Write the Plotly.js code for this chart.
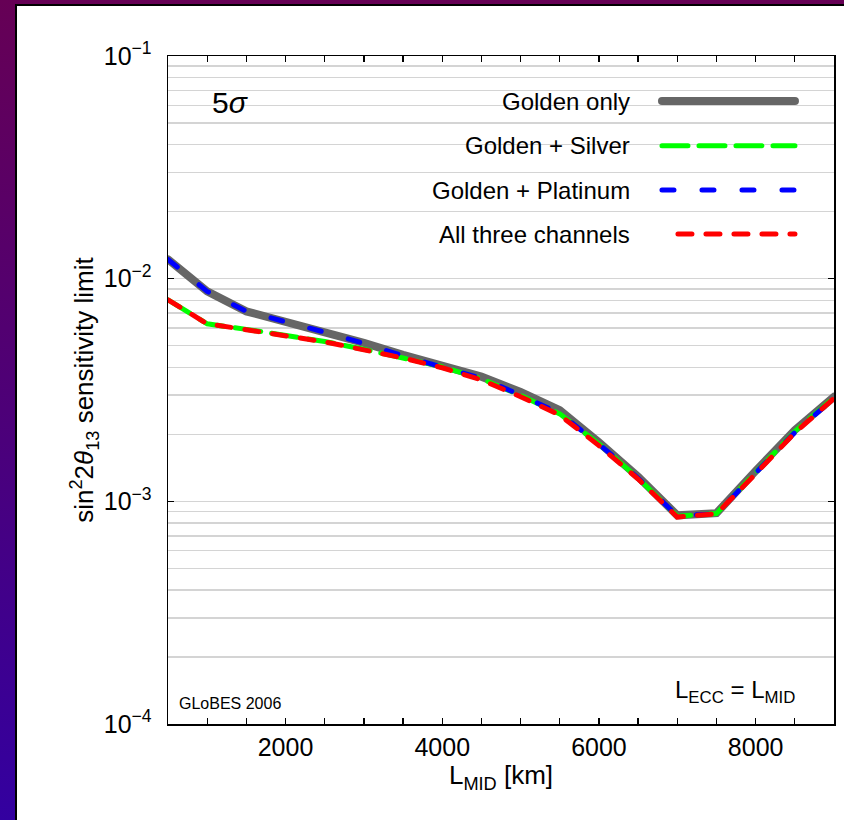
<!DOCTYPE html>
<html>
<head>
<meta charset="utf-8">
<script src="https://cdn.plot.ly/plotly-3.0.1.min.js"></script>
<style>
  html, body { margin: 0; padding: 0; }
  body {
    width: 844px; height: 820px; overflow: hidden; position: relative;
    background: linear-gradient(to bottom, #660055 0%, #4d0078 50%, #3300a0 100%);
  }
  #panel {
    position: absolute; left: 15px; top: 4px; right: 0; bottom: 0;
    background: #ffffff; border-left: 2px solid #000; border-top: 2px solid #000;
  }
  #chart { position: absolute; left: 0; top: 0; width: 844px; height: 820px; }
  #chart .js-line { stroke-linecap: round; }
  #chart .shapelayer path { stroke-linecap: round; }
</style>
</head>
<body>
<div id="panel"></div>
<div id="chart"></div>
<script>
// ---- data ----
const distances = [500, 1000, 1500, 2000, 2500, 3000, 3500, 4000, 4500, 5000, 5500, 6000, 6500, 7000, 7500, 8000, 8500, 9000];
const goldenOnly     = [0.0122, 0.00877, 0.00713, 0.00643, 0.00575, 0.00515, 0.00455, 0.00406, 0.00363, 0.00310, 0.00257, 0.00184, 0.00129, 0.000865, 0.000885, 0.00137, 0.00209, 0.00295];
const goldenSilver   = [0.00803, 0.00627, 0.00592, 0.00555, 0.00522, 0.00482, 0.00443, 0.00402, 0.00355, 0.00299, 0.00247, 0.00181, 0.00127, 0.000858, 0.000882, 0.00135, 0.00206, 0.00293];
const goldenPlatinum = [0.0122, 0.00877, 0.00713, 0.00643, 0.00575, 0.00512, 0.00450, 0.00401, 0.00357, 0.00300, 0.00248, 0.00181, 0.00127, 0.000860, 0.000880, 0.00134, 0.00204, 0.00290];
const allThree       = [0.00803, 0.00627, 0.00590, 0.00553, 0.00520, 0.00479, 0.00440, 0.00398, 0.00351, 0.00295, 0.00244, 0.00178, 0.00126, 0.000850, 0.000880, 0.00133, 0.00203, 0.00290];

const seriesNames = ["Golden only", "Golden + Silver", "Golden + Platinum", "All three channels"];

const xTickVals = [2000, 4000, 6000, 8000];
const xTickText = ["2000", "4000", "6000", "8000"];
const yTickVals = [1e-4, 1e-3, 1e-2, 1e-1];
const yTickText = ["10<sup>\u22124</sup>", "10<sup>\u22123</sup>", "10<sup>\u22122</sup>", "10<sup>\u22121</sup>"];

// minor gridlines at 2..9 x 10^n
const yMinorVals = [];
for (let e = -4; e < -1; e++) {
  for (let k = 2; k <= 9; k++) yMinorVals.push(k * Math.pow(10, e));
}

// ---- styles ----
const styles = [
  { color: "#666666", width: 8, dash: "solid" },
  { color: "#00ff00", width: 5, dash: "26px,11px" },
  { color: "#0000ff", width: 5, dash: "12px,28px" },
  { color: "#ff0000", width: 5, dash: "14px,14px" }
];
const seriesData = [goldenOnly, goldenSilver, goldenPlatinum, allThree];

const traces = seriesData.map((ys, i) => ({
  type: "scatter", mode: "lines",
  x: distances, y: ys, name: seriesNames[i],
  line: { color: styles[i].color, width: styles[i].width, dash: styles[i].dash },
  showlegend: false, hoverinfo: "skip"
}));

const FONT = "Liberation Sans, Arial, Helvetica, sans-serif";

// manual legend (text on the left, sample on the right, as in the reference)
const legendY = [0.9326, 0.8657, 0.7994, 0.7335];
const annotations = seriesNames.map((n, i) => ({
  xref: "x domain", yref: "y domain", x: 0.6967, y: legendY[i],
  xanchor: "right", yanchor: "middle", showarrow: false,
  text: n, font: { family: FONT, size: 24, color: "#000" }
}));
const shapes = styles.map((s, i) => ({
  type: "line", xref: "x domain", yref: "y domain",
  x0: 0.7357 + (i === 3 ? 0.03 : 0.006), x1: 0.9474 - 0.006, y0: legendY[i], y1: legendY[i],
  line: { color: s.color, width: s.width, dash: s.dash }
}));

annotations.push(
  { xref: "x domain", yref: "y domain", x: 0.063, y: 0.931, xanchor: "left", yanchor: "middle",
    showarrow: false, text: "5<i>\u03c3</i>", font: { family: FONT, size: 30, color: "#000" } },
  { xref: "x domain", yref: "y domain", x: 0.014, y: 0.031, xanchor: "left", yanchor: "middle",
    showarrow: false, text: "GLoBES 2006", font: { family: FONT, size: 16, color: "#000" } },
  { xref: "x domain", yref: "y domain", x: 0.944, y: 0.049, xanchor: "right", yanchor: "middle",
    showarrow: false, text: "L<sub>ECC</sub> = L<sub>MID</sub>", font: { family: FONT, size: 24, color: "#000" } }
);

const layout = {
  width: 844, height: 820,
  paper_bgcolor: "rgba(0,0,0,0)", plot_bgcolor: "rgba(0,0,0,0)",
  margin: { l: 168, r: 10, t: 56, b: 96 },
  font: { family: FONT, color: "#000" },
  showlegend: false,
  xaxis: {
    type: "linear", range: [500, 9000],
    tickmode: "array", tickvals: xTickVals, ticktext: xTickText,
    ticks: "inside", ticklen: 6, tickwidth: 1.3, tickcolor: "#000",
    minor: { dtick: 500, tick0: 0, ticks: "inside", ticklen: 6, tickwidth: 1.3, tickcolor: "#000", showgrid: false },
    showgrid: false, zeroline: false,
    showline: true, linecolor: "#000", linewidth: 1.5, mirror: "ticks",
    tickfont: { family: FONT, size: 25, color: "#000" },
    title: { text: "L<sub>MID</sub> [km]", font: { family: FONT, size: 26, color: "#000" }, standoff: 2 },
    automargin: false
  },
  yaxis: {
    type: "log", range: [-4, -1],
    tickmode: "array", tickvals: yTickVals, ticktext: yTickText,
    ticks: "inside", ticklen: 6, tickwidth: 1.3, tickcolor: "#000",
    showgrid: true, gridcolor: "#d4d4d4", gridwidth: 1.5, zeroline: false,
    showline: true, linecolor: "#000", linewidth: 1.5, mirror: "ticks",
    minor: { tickmode: "array", tickvals: yMinorVals, showgrid: true, gridcolor: "#d4d4d4", gridwidth: 1.5, ticks: "" },
    tickfont: { family: FONT, size: 25, color: "#000" },
    ticklabelstandoff: 10,
    title: { text: "sin<sup>2</sup>2<i>\u03b8</i><sub>13</sub> sensitivity limit", font: { family: FONT, size: 26, color: "#000" }, standoff: 2 },
    automargin: false
  },
  annotations: annotations,
  shapes: shapes
};

Plotly.newPlot("chart", traces, layout, { displayModeBar: false, staticPlot: true });
</script>
</body>
</html>
